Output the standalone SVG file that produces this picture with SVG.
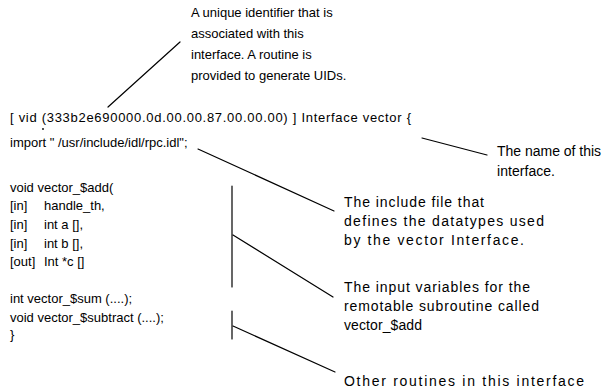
<svg xmlns="http://www.w3.org/2000/svg" width="603" height="391" viewBox="0 0 603 391">
  <style>
    text { font-family: "Liberation Sans", Arial, sans-serif; fill: #000; }
    .code { font-size: 13px; }
    .note { font-size: 13px; }
    .side { font-size: 14px; }
    .lead { stroke: #000; stroke-width: 1.2; fill: none; stroke-linecap: round; }
  </style>
  <rect width="603" height="391" fill="#fff"/>

  <!-- IDL source listing -->
  <g id="idl-source">
    <text class="code" x="10" y="122" textLength="401" lengthAdjust="spacing">[ vid (333b2e690000.0d.00.00.87.00.00.00) ] Interface vector {</text>
    <circle cx="43" cy="129" r="0.9" fill="#000"/>
    <text class="code" x="10" y="147">import " /usr/include/idl/rpc.idl";</text>
    <text class="code" x="10" y="192">void vector_$add(</text>
    <text class="code" x="10" y="210">[in]</text><text class="code" x="44" y="210">handle_th,</text>
    <text class="code" x="10" y="229">[in]</text><text class="code" x="44" y="229">int a [],</text>
    <text class="code" x="10" y="248">[in]</text><text class="code" x="44" y="248">int b [],</text>
    <text class="code" x="10" y="266">[out]</text><text class="code" x="44" y="266">Int *c []</text>
    <text class="code" x="10" y="303">int vector_$sum (....);</text>
    <text class="code" x="10" y="322">void vector_$subtract (....);</text>
    <text class="code" x="10" y="339">}</text>
  </g>

  <!-- Annotations -->
  <g id="note-uid">
    <text class="note" x="191" y="17">A unique identifier that is</text>
    <text class="note" x="191" y="38">associated with this</text>
    <text class="note" x="191" y="59">interface.  A routine is</text>
    <text class="note" x="191" y="80">provided to generate UIDs.</text>
  </g>
  <g id="note-name">
    <text class="side" x="497" y="156" textLength="104" lengthAdjust="spacing">The name of this</text>
    <text class="side" x="497" y="176" textLength="58" lengthAdjust="spacing">interface.</text>
  </g>
  <g id="note-include">
    <text class="side" x="344" y="207" textLength="140" lengthAdjust="spacing">The include file that</text>
    <text class="side" x="344" y="226" textLength="200" lengthAdjust="spacing">defines the datatypes used</text>
    <text class="side" x="344" y="245" textLength="180" lengthAdjust="spacing">by the vector Interface.</text>
  </g>
  <g id="note-inputs">
    <text class="side" x="344" y="292" textLength="186" lengthAdjust="spacing">The input variables for the</text>
    <text class="side" x="344" y="311" textLength="195" lengthAdjust="spacing">remotable subroutine called</text>
    <text class="side" x="344" y="330" textLength="78" lengthAdjust="spacing">vector_$add</text>
  </g>
  <g id="note-routines">
    <text class="side" x="344" y="386" textLength="240" lengthAdjust="spacing">Other routines in this interface</text>
  </g>

  <!-- Leader lines -->
  <g id="connectors">
    <line class="lead" x1="108" y1="107" x2="180" y2="42"/>
    <line class="lead" x1="422" y1="138" x2="487" y2="155"/>
    <line class="lead" x1="198" y1="149" x2="334" y2="211"/>
    <line class="lead" x1="232" y1="186" x2="232" y2="287"/>
    <line class="lead" x1="233" y1="235" x2="333" y2="297"/>
    <line class="lead" x1="232" y1="311" x2="232" y2="339"/>
    <line class="lead" x1="233" y1="326" x2="335" y2="372"/>
  </g>
</svg>
